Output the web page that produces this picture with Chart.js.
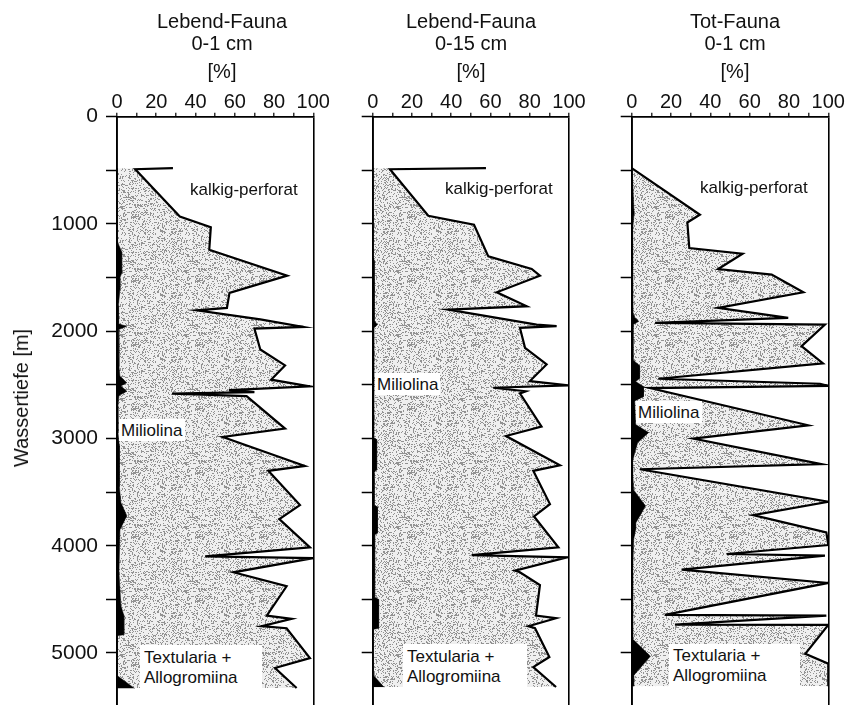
<!DOCTYPE html>
<html>
<head>
<meta charset="utf-8">
<script src="https://cdn.jsdelivr.net/npm/chart.js@4.4.1/dist/chart.umd.min.js"></script>
<style>
  body { margin: 0; background: #fff; width: 849px; height: 705px; overflow: hidden; position: relative;
         font-family: "Liberation Sans", Arial, sans-serif; color: #111; }
  canvas { position: absolute; top: 0; }
  .hd { position: absolute; font-size: 20px; line-height: 20px; white-space: nowrap; transform: translateX(-50%); }
  .lb { position: absolute; font-size: 17px; line-height: 17px; white-space: nowrap; }
  .box { position: absolute; background: #fff; }
  #ytitle { position: absolute; left: 21px; top: 398px; font-size: 20px; line-height: 20px; white-space: nowrap;
            transform: translate(-50%, -50%) rotate(-90deg); }
</style>
</head>
<body>
<canvas id="c1" width="335" height="705" style="left:0"></canvas>
<canvas id="c2" width="250" height="705" style="left:340px"></canvas>
<canvas id="c3" width="251" height="705" style="left:598px"></canvas>

<!-- panel headings -->
<div class="hd" style="left:222px;top:11px">Lebend-Fauna</div>
<div class="hd" style="left:222px;top:33px">0-1 cm</div>
<div class="hd" style="left:222px;top:61px">[%]</div>
<div class="hd" style="left:471px;top:11px">Lebend-Fauna</div>
<div class="hd" style="left:471px;top:33px">0-15 cm</div>
<div class="hd" style="left:471px;top:61px">[%]</div>
<div class="hd" style="left:735px;top:11px">Tot-Fauna</div>
<div class="hd" style="left:735px;top:33px">0-1 cm</div>
<div class="hd" style="left:735px;top:61px">[%]</div>
<div id="ytitle">Wassertiefe [m]</div>

<!-- in-plot labels -->
<div class="lb" style="left:190px;top:181px">kalkig-perforat</div>
<div class="box" style="left:119px;top:419px;width:66px;height:22px"></div>
<div class="lb" style="left:121px;top:422px">Miliolina</div>
<div class="box" style="left:140px;top:645px;width:122px;height:46px"></div>
<div class="lb" style="left:144px;top:649px">Textularia +</div>
<div class="lb" style="left:144px;top:669px">Allogromiina</div>

<div class="lb" style="left:445px;top:180px">kalkig-perforat</div>
<div class="box" style="left:375px;top:373px;width:65px;height:22px"></div>
<div class="lb" style="left:377px;top:376px">Miliolina</div>
<div class="box" style="left:403px;top:644px;width:124px;height:46px"></div>
<div class="lb" style="left:407px;top:648px">Textularia +</div>
<div class="lb" style="left:407px;top:668px">Allogromiina</div>

<div class="lb" style="left:700px;top:179px">kalkig-perforat</div>
<div class="box" style="left:636px;top:401px;width:66px;height:22px"></div>
<div class="lb" style="left:638px;top:404px">Miliolina</div>
<div class="box" style="left:669px;top:644px;width:131px;height:46px"></div>
<div class="lb" style="left:673px;top:647px">Textularia +</div>
<div class="lb" style="left:673px;top:667px">Allogromiina</div>

<script>
// Foraminiferen-Anteile gegen Wassertiefe, drei Profile
// kalkig-perforat is plotted cumulative (Miliolina + kalkig-perforat), rest to 100 = Textularia + Allogromiina

// Lebend-Fauna 0-1 cm
const p1KalkDepth = [480, 490, 930, 1030, 1240, 1482, 1643, 1783, 1805, 1890, 1960, 1975, 2170, 2319, 2452, 2514, 2550, 2568, 2582, 2605,
  2908, 2986, 3256, 3302, 3621, 3752, 4015, 4099, 4115, 4248, 4378, 4651, 4682, 4750, 4769, 5047, 5140, 5327];
const p1KalkPct = [28.5, 9.3, 32, 47.8, 47, 86.7, 57.3, 56, 40.7, 73, 95, 70, 73, 85.6, 78.5, 98.3, 57, 70, 28, 66,
  85.6, 53.9, 95.7, 77.1, 93.2, 82.7, 98.3, 44.9, 100, 59.3, 86.4, 76.3, 89, 73.7, 86.4, 98.3, 80.5, 91.5];
const p1MilDepth = [480, 1150, 1200, 1260, 1460, 1500, 1610, 1760, 1930, 1955, 1985, 2330, 2420, 2480, 2510, 2560, 2600, 2700, 2950,
  3070, 3450, 3600, 3720, 3850, 4250, 4560, 4650, 4830, 4840, 5210, 5330];
const p1MilPct = [0, 0, 1, 2.4, 2.4, 1.5, 1.5, 0.7, 0.8, 4.9, 0.8, 1, 1.5, 5, 2, 5, 1, 0.5, 0.5,
  1.2, 1.2, 2, 5, 1.5, 1, 2, 3.5, 3.5, 0, 0, 9];

// Lebend-Fauna 0-15 cm
const p2KalkDepth = [480, 490, 924, 1007, 1302, 1420, 1482, 1637, 1767, 1798, 1938, 1953, 1968, 2155, 2310, 2465, 2505, 2527, 2560, 2580,
  2890, 2977, 3250, 3302, 3612, 3727, 4015, 4087, 4108, 4233, 4248, 4366, 4651, 4676, 4750, 4769, 5038, 5131, 5317];
const p2KalkPct = [57.7, 8.8, 28.3, 51.6, 58.9, 81, 85.2, 63.2, 78.5, 38.5, 83.5, 93.7, 75, 77.6, 88.6, 80.1, 99.6, 61.4, 78, 75,
  86, 67.9, 95.4, 81.8, 90.3, 82.2, 94.6, 50.4, 99.1, 72.5, 75, 85.2, 83.2, 93.4, 79.3, 82.7, 90, 81.8, 93.4];
const p2MilDepth = [480, 1300, 1340, 1900, 1940, 1970, 2990, 3010, 3290, 3320, 3620, 3640, 3880, 3900, 4480, 4500, 4770, 4780, 5200, 5320];
const p2MilPct = [0, 0, 0.8, 0.8, 2.4, 0.6, 0.5, 2, 2, 0.7, 0.8, 2.4, 2.4, 1, 1, 3, 3, 0, 0, 5.8];

// Tot-Fauna 0-1 cm
const p3KalkDepth = [480, 914, 986, 1225, 1277, 1420, 1472, 1637, 1783, 1876, 1922, 1938, 2140, 2300, 2443, 2490, 2510, 2530,
  2877, 3001, 3240, 3287, 3590, 3714, 3876, 3993, 4077, 4093, 4223, 4347, 4645, 4651, 4735, 4738, 5007, 5100, 5310];
const p3KalkPct = [0, 34.7, 28.3, 29.3, 56.4, 44, 71.2, 87.3, 44, 79.6, 11.9, 98.3, 86.4, 97.3, 13.5, 95.8, 100, 9.3,
  89.8, 31.3, 96.6, 4.2, 100, 61.8, 99, 100, 48.3, 98.3, 25.4, 100, 16.9, 99, 22, 100, 88.3, 100, 100];
const p3MilDepth = [480, 600, 900, 1050, 1830, 1870, 1908, 1940, 2265, 2290, 2320, 2440, 2470, 2515, 2610, 2650, 2870, 2945, 3040,
  3170, 3230, 3320, 3480, 3630, 3790, 3850, 3940, 4250, 4870, 5030, 5210, 5310];
const p3MilPct = [0, 0.5, 1.2, 0.5, 0.7, 1.5, 3.6, 0.7, 0.7, 2, 4, 4, 2, 6, 6, 1.5, 2, 8.6, 3,
  1, 0.3, 0.5, 1, 7, 2, 2, 1, 0.5, 0.5, 9.5, 1, 1];

// axis ticks
const pctTicks = [0, 10, 20, 30, 40, 50, 60, 70, 80, 90, 100];
const depthTicks = [0, 500, 1000, 1500, 2000, 2500, 3000, 3500, 4000, 4500, 5000];
const depthMax = 5485;

Chart.defaults.font.family = '"Liberation Sans", Arial, sans-serif';
Chart.defaults.color = '#111';

// grey raster like the printed stipple (fixed hash, only a texture)
function stipple() {
  const n = 64;
  const c = document.createElement('canvas');
  c.width = n; c.height = n;
  const g = c.getContext('2d');
  g.fillStyle = '#efefef';
  g.fillRect(0, 0, n, n);
  g.fillStyle = '#929292';
  for (let y = 0; y < n; y++) {
    for (let x = 0; x < n; x++) {
      const h = Math.sin(x * 12.9898 + y * 78.233) * 43758.5453;
      if (h - Math.floor(h) < 0.27) g.fillRect(x, y, 1, 1);
    }
  }
  return g.createPattern(c, 'repeat');
}

function pts(depths, vals) {
  return depths.map((d, i) => ({ x: vals[i], y: d }));
}

function makePanel(id, kalkD, kalkV, milD, milV, yWidth, padRight, showYLabels) {
  const ctx = document.getElementById(id).getContext('2d');
  return new Chart(ctx, {
    type: 'line',
    data: {
      datasets: [
        { data: pts(milD, milV), borderColor: '#000', borderWidth: 0.5, backgroundColor: '#000',
          fill: 'origin', pointRadius: 0, tension: 0 },
        { data: pts(kalkD, kalkV), borderColor: '#000', borderWidth: 2.2, backgroundColor: stipple(),
          fill: 'origin', pointRadius: 0, tension: 0 }
      ]
    },
    options: {
      indexAxis: 'y',
      responsive: false,
      animation: false,
      events: [],
      layout: { padding: { left: 0, right: padRight, top: 0, bottom: 0 } },
      plugins: { legend: { display: false }, tooltip: { enabled: false } },
      scales: {
        x: {
          type: 'linear', position: 'top', min: 0, max: 100,
          afterFit: s => { s.height = 116.7; },
          afterBuildTicks: s => { s.ticks = pctTicks.map(v => ({ value: v })); },
          ticks: { padding: 0, autoSkip: false, maxRotation: 0,
                   font: { size: 20, lineHeight: 1 }, color: '#111',
                   callback: v => (v % 20 === 0 ? String(v) : '') },
          grid: { z: 1, lineWidth: 1.6, tickLength: 4, tickWidth: 1.2, tickColor: '#000',
                  color: c => (c.tick && (c.tick.value === 0 || c.tick.value === 100)) ? '#000' : 'rgba(0,0,0,0)' },
          border: { z: 1, color: '#000', width: 1.8 }
        },
        y: {
          type: 'linear', reverse: true, min: 0, max: depthMax,
          // no label overflow padding: the plot runs to the bottom edge
          afterFit: s => { s.width = yWidth; s.paddingTop = 0; s.paddingBottom = 0; },
          afterBuildTicks: s => { s.ticks = depthTicks.map(v => ({ value: v })); },
          ticks: { padding: 8, autoSkip: false, font: { size: 21 }, color: '#111',
                   callback: v => (showYLabels && v % 1000 === 0 ? String(v) : '') },
          grid: { z: 1, color: 'rgba(0,0,0,0)', tickColor: '#000', tickLength: 11, tickWidth: 1.5 },
          border: { z: 1, color: '#000', width: 1.8 }
        }
      }
    }
  });
}

makePanel('c1', p1KalkDepth, p1KalkPct, p1MilDepth, p1MilPct, 117, 21.7, true);
makePanel('c2', p2KalkDepth, p2KalkPct, p2MilDepth, p2MilPct, 32.7, 21, false);
makePanel('c3', p3KalkDepth, p3KalkPct, p3MilDepth, p3MilPct, 33.7, 20.7, false);
</script>
</body>
</html>
